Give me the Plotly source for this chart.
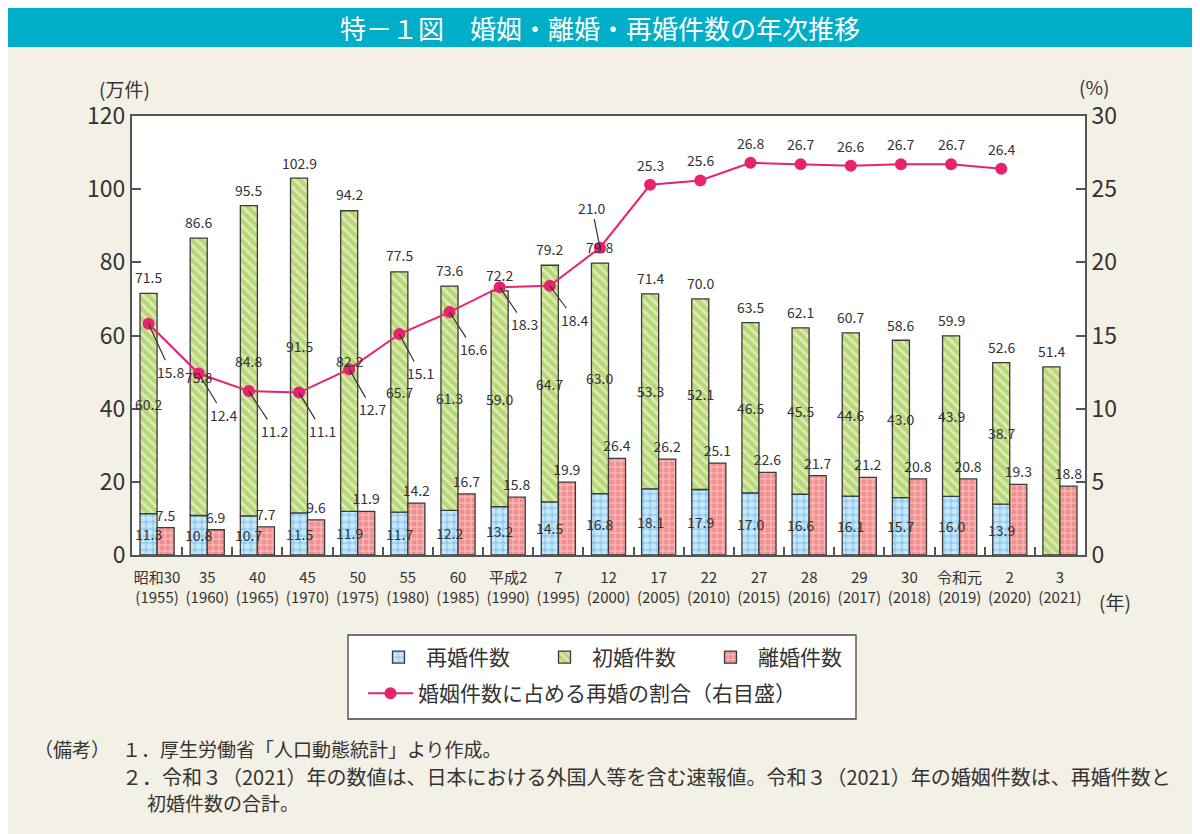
import plotly.graph_objects as go

# 婚姻・離婚・再婚件数の年次推移（万件、%）
era_labels = ['昭和30', '35', '40', '45', '50', '55', '60', '平成2', '7', '12',
              '17', '22', '27', '28', '29', '30', '令和元', '2', '3']
year_labels = ['1955', '1960', '1965', '1970', '1975', '1980', '1985', '1990', '1995', '2000',
               '2005', '2010', '2015', '2016', '2017', '2018', '2019', '2020', '2021']
total_marriage = [71.5, 86.6, 95.5, 102.9, 94.2, 77.5, 73.6, 72.2, 79.2, 79.8,
                  71.4, 70.0, 63.5, 62.1, 60.7, 58.6, 59.9, 52.6, 51.4]
first_marriage = [60.2, 75.8, 84.8, 91.5, 82.2, 65.7, 61.3, 59.0, 64.7, 63.0,
                  53.3, 52.1, 46.5, 45.5, 44.6, 43.0, 43.9, 38.7, None]
remarriage = [11.3, 10.8, 10.7, 11.5, 11.9, 11.7, 12.2, 13.2, 14.5, 16.8,
              18.1, 17.9, 17.0, 16.6, 16.1, 15.7, 16.0, 13.9, None]
divorce = [7.5, 6.9, 7.7, 9.6, 11.9, 14.2, 16.7, 15.8, 19.9, 26.4,
           26.2, 25.1, 22.6, 21.7, 21.2, 20.8, 20.8, 19.3, 18.8]
remarriage_share = [15.8, 12.4, 11.2, 11.1, 12.7, 15.1, 16.6, 18.3, 18.4, 21.0,
                    25.3, 25.6, 26.8, 26.7, 26.6, 26.7, 26.7, 26.4, None]

# label offsets (px) for the share labels; None = straight above the point
share_label_offsets = [(22, 48), (25, 41), (26, 40), (23, 38), (23, 40), (21, 39),
                       (24, 37), (25, 37), (25, 34), (-8, -40)] + [None] * 9

FONT = 'Noto Sans CJK JP'
TEXT = '#333333'
AXIS = '#555555'
BAR_W = 0.34
LABEL_SIZE = 14

# the page puts the figure 8px in from the window corner
OFF = 8
W, H = 1200, 834
# plot area, in window pixels
L, R, T, B = 132 - OFF, 1085 - OFF, 116 - OFF, 555 - OFF


def px_x(sx):
    return (sx - OFF - L) / (R - L)


def px_y(sy):
    return (B - (sy - OFF)) / (B - T)


idx = list(range(len(era_labels)))
line_x = [i - BAR_W / 2 for i in idx]
remarriage_base = [r if r is not None else 0 for r in remarriage]
first_drawn = [f if f is not None else t for f, t in zip(first_marriage, total_marriage)]

outline = dict(color='#3a3a3a', width=1.3)
label_font = dict(family=FONT, size=LABEL_SIZE, color=TEXT)

fig = go.Figure()
fig.add_trace(go.Bar(
    x=idx, y=remarriage, width=BAR_W, offset=-BAR_W, name='再婚件数',
    marker=dict(color='#8fcdf2', line=outline,
                pattern=dict(shape='.', bgcolor='#8fcdf2', fgcolor='white', size=7, solidity=0.6)),
    legend='legend',
))
fig.add_trace(go.Bar(
    x=idx, y=first_drawn, base=remarriage_base, width=BAR_W, offset=-BAR_W, name='初婚件数',
    marker=dict(color='#b8d774', line=outline,
                pattern=dict(shape='\\', bgcolor='#b8d774', fgcolor='white', size=7, solidity=0.4)),
    legend='legend',
))
fig.add_trace(go.Bar(
    x=idx, y=divorce, width=BAR_W, offset=0, name='離婚件数',
    marker=dict(color='#f3908f', line=outline,
                pattern=dict(shape='+', bgcolor='#f3908f', fgcolor='white', size=6, solidity=0.3)),
    text=[f'{v:.1f}' for v in divorce],
    textposition='outside', textangle=0, constraintext='none', cliponaxis=False,
    textfont=label_font, legend='legend',
))
fig.add_trace(go.Scatter(
    x=line_x, y=remarriage_share, yaxis='y2', mode='lines+markers',
    name='婚姻件数に占める再婚の割合（右目盛）',
    line=dict(color='#e5236f', width=2), marker=dict(color='#e5236f', size=12),
    legend='legend2',
))

annotations = []
# totals above the stacked bars, value labels inside them
for x, t, f, r in zip(line_x, total_marriage, first_marriage, remarriage):
    annotations.append(dict(x=x, y=t, xref='x', yref='y', text=f'{t:.1f}', showarrow=False,
                            yanchor='bottom', yshift=4, font=label_font))
    if f is not None:
        annotations.append(dict(x=x, y=r + f / 2, xref='x', yref='y', text=f'{f:.1f}',
                                showarrow=False, font=label_font))
    if r is not None:
        annotations.append(dict(x=x, y=r / 2, xref='x', yref='y', text=f'{r:.1f}',
                                showarrow=False, font=label_font))
# share labels
for x, s, off in zip(line_x, remarriage_share, share_label_offsets):
    if s is None:
        continue
    if off is None:
        annotations.append(dict(x=x, y=s, xref='x', yref='y2', text=f'{s:.1f}', showarrow=False,
                                yanchor='bottom', yshift=8, font=label_font))
    else:
        annotations.append(dict(x=x, y=s, xref='x', yref='y2', text=f'{s:.1f}', showarrow=True,
                                ax=off[0], ay=off[1], arrowhead=0, arrowwidth=1.2,
                                arrowcolor='#333333', standoff=0, font=label_font))


def note(sx, sy, text, size, **kw):
    return dict(x=px_x(sx), y=px_y(sy), xref='paper', yref='paper', text=text, showarrow=False,
                yanchor='middle', font=dict(family=FONT, size=size, color=kw.pop('color', TEXT)),
                **kw)


# title, axis units, notes
annotations += [
    note(600, 27, '特－１図　婚姻・離婚・再婚件数の年次推移', 26, color='white'),
    note(97, 88, '(万件)', 19),
    note(1111, 87, '(%)', 19),
    note(1133, 601, '(年)', 19),
    note(32, 748, '（備考）', 19, xanchor='left'),
    note(120, 748, '１．厚生労働省「人口動態統計」より作成。', 19, xanchor='left'),
    note(120, 776, '２．令和３（2021）年の数値は、日本における外国人等を含む速報値。令和３（2021）年の婚姻件数は、再婚件数と',
         20, xanchor='left'),
    note(145, 802, '初婚件数の合計。', 19, xanchor='left'),
]

shapes = [
    dict(type='rect', xref='paper', yref='paper', x0=px_x(0), x1=px_x(W + OFF), y0=px_y(47),
         y1=px_y(3), fillcolor='#00aec7', line=dict(width=0), layer='below'),
    dict(type='rect', xref='paper', yref='paper', x0=px_x(348), x1=px_x(856), y0=px_y(719),
         y1=px_y(635), fillcolor='white', line=dict(color='#444444', width=1.3), layer='below'),
]

fig.update_layout(
    width=W, height=H,
    margin=dict(l=L, r=W - R, t=T, b=H - B, autoexpand=False),
    paper_bgcolor='#f3f0e5', plot_bgcolor='white',
    barmode='overlay', showlegend=True,
    font=dict(family=FONT, color=TEXT),
    xaxis=dict(range=[-0.5, len(idx) - 0.5], tickvals=idx,
               ticktext=[f'{e}<br>({y})' for e, y in zip(era_labels, year_labels)],
               ticks='', showline=True, linecolor=AXIS, linewidth=2, mirror=True,
               showgrid=False, zeroline=False, tickfont=dict(size=15, color=TEXT),
               tickangle=0, ticklabelstandoff=8,
               minor=dict(tickvals=[i + 0.5 for i in idx[:-1]], ticks='inside', ticklen=8,
                          tickcolor=AXIS, tickwidth=1.5)),
    yaxis=dict(range=[0, 120], tickvals=[0, 20, 40, 60, 80, 100, 120], ticks='inside', ticklen=9,
               tickcolor=AXIS, tickwidth=1.5, showline=True, linecolor=AXIS, linewidth=2,
               showgrid=False, zeroline=False, tickfont=dict(size=23, color=TEXT)),
    yaxis2=dict(range=[0, 30], tickvals=[0, 5, 10, 15, 20, 25, 30], overlaying='y', side='right',
                ticks='inside', ticklen=9, tickcolor=AXIS, tickwidth=1.5, showline=True,
                linecolor=AXIS, linewidth=2, showgrid=False, zeroline=False,
                tickfont=dict(size=23, color=TEXT)),
    legend=dict(orientation='h', x=px_x(371), y=px_y(637), xanchor='left', yanchor='top',
                entrywidth=106, bgcolor='rgba(0,0,0,0)', font=dict(size=21, color=TEXT),
                itemwidth=45),
    legend2=dict(orientation='h', x=px_x(363), y=px_y(673), xanchor='left', yanchor='top',
                 bgcolor='rgba(0,0,0,0)', font=dict(size=21, color=TEXT), itemwidth=45),
    annotations=annotations, shapes=shapes,
)

fig.write_html('out.html')
